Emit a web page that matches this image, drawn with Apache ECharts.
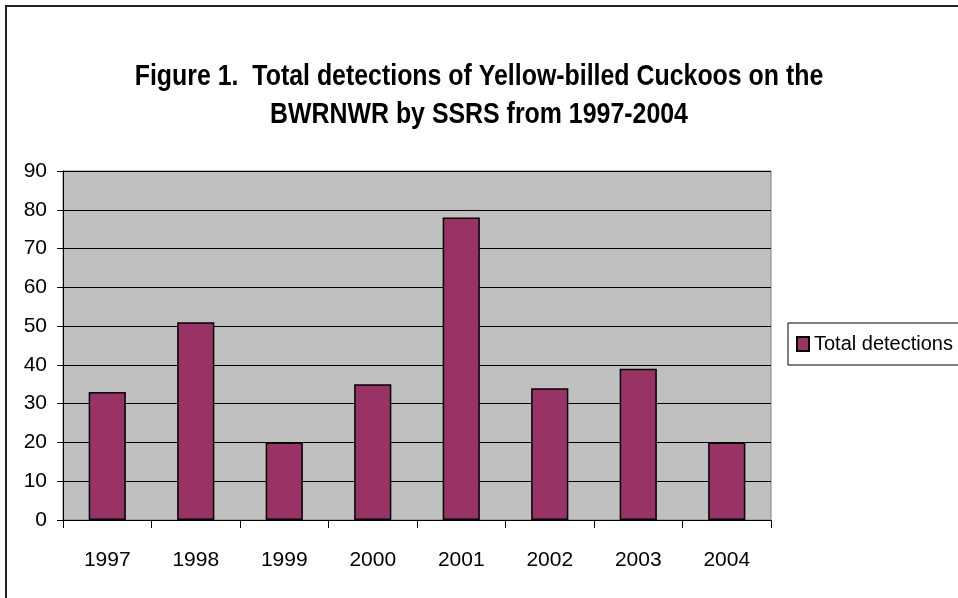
<!DOCTYPE html>
<html>
<head>
<meta charset="utf-8">
<script src="https://cdn.jsdelivr.net/npm/echarts@6/dist/echarts.min.js"></script>
<style>
html,body{margin:0;padding:0;background:#fff;}
#chart{width:958px;height:598px;}
</style>
</head>
<body>
<div id="chart"></div>
<script>
const titleLines = ['Figure 1.  Total detections of Yellow-billed Cuckoos on the', 'BWRNWR by SSRS from 1997-2004'];
const categories = ['1997','1998','1999','2000','2001','2002','2003','2004'];
const seriesName = 'Total detections';
const detections = [33, 51, 20, 35, 78, 34, 39, 20];
const yTicks = [0, 90, 10];

const FONT = "'Liberation Sans', Arial, sans-serif";
const chart = echarts.init(document.getElementById('chart'));
chart.setOption({
  backgroundColor: '#fff',
  animation: false,
  graphic: [
    {
      type: 'polyline',
      shape: {points: [[6, 598], [6, 6], [958, 6]]},
      style: {stroke: '#222', lineWidth: 2, fill: null}
    },
    {
      type: 'text', x: 479, y: 77, scaleX: 0.83,
      style: {text: titleLines[0], font: "bold 30px 'Liberation Sans', Arial, sans-serif", fill: '#000', textAlign: 'center', textVerticalAlign: 'middle'}
    },
    {
      type: 'text', x: 479, y: 115, scaleX: 0.83,
      style: {text: titleLines[1], font: "bold 30px 'Liberation Sans', Arial, sans-serif", fill: '#000', textAlign: 'center', textVerticalAlign: 'middle'}
    }
  ],
  legend: {
    left: 788,
    top: 323,
    orient: 'vertical',
    padding: [9, 20, 9, 8],
    borderColor: '#000',
    borderWidth: 1,
    backgroundColor: '#fff',
    itemWidth: 12,
    itemHeight: 14,
    icon: 'rect',
    textStyle: {fontFamily: FONT, fontSize: 20, color: '#000', lineHeight: 24},
    data: [seriesName]
  },
  grid: {left: 63, right: 187, top: 171, bottom: 78, show: true, backgroundColor: '#c0c0c0', borderColor: '#808080', borderWidth: 1},
  xAxis: {
    type: 'category',
    data: categories,
    axisLine: {lineStyle: {color: '#000', width: 1}},
    axisTick: {show: true, length: 8, lineStyle: {color: '#000'}},
    axisLabel: {fontFamily: FONT, fontSize: 21, color: '#000', margin: 30}
  },
  yAxis: {
    type: 'value',
    min: yTicks[0], max: yTicks[1], interval: yTicks[2],
    axisLine: {show: true, lineStyle: {color: '#000', width: 1}},
    axisTick: {show: true, length: 6, lineStyle: {color: '#000'}},
    axisLabel: {fontFamily: FONT, fontSize: 21, color: '#000', margin: 16, padding: [6, 0, 0, 0]},
    splitLine: {lineStyle: {color: '#000', width: 1}}
  },
  series: [{
    name: seriesName,
    type: 'bar',
    data: detections,
    barWidth: '42%',
    itemStyle: {color: '#993366', borderColor: '#000', borderWidth: 1.5}
  }]
});
</script>
</body>
</html>
